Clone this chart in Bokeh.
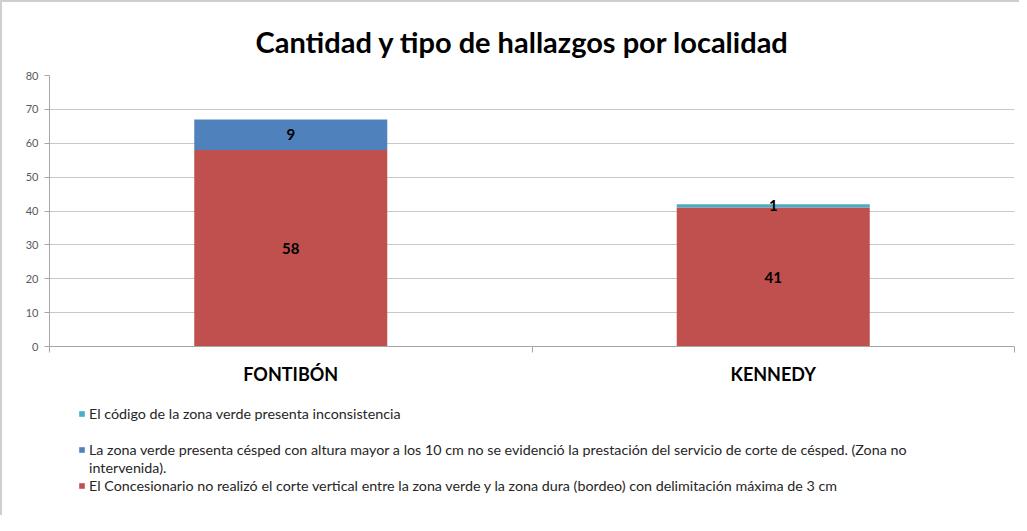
from bokeh.plotting import figure
from bokeh.layouts import column
from bokeh.models import (ColumnDataSource, Range1d, FixedTicker, Legend, LegendItem,
                          LabelSet)
from bokeh.core.properties import value
from bokeh.embed import file_html
from bokeh.resources import INLINE

# ---- data ----
categories = ["FONTIBÓN", "KENNEDY"]
corte_vertical = [58, 41]          # red
zona_no_intervenida = [9, 0]       # blue
codigo_inconsistente = [0, 1]      # cyan
series_names = ["corte_vertical", "zona_no_intervenida", "codigo_inconsistente"]
series_values = [corte_vertical, zona_no_intervenida, codigo_inconsistente]
series_labels = [
    "El Concesionario no realizó el corte vertical entre la zona verde y la zona dura (bordeo) con delimitación máxima de 3 cm",
    "La zona verde presenta césped con altura mayor a los 10 cm no se evidenció la prestación del servicio de corte de césped. (Zona no",
    "El código de la zona verde presenta inconsistencia",
]
label_continuation = "intervenida)."
colors = ["#C0504D", "#4F81BD", "#4BACC6"]
y_ticks = [0, 10, 20, 30, 40, 50, 60, 70, 80]
title_text = "Cantidad y tipo de hallazgos por localidad"

FONT = "Lato"
W = 1017

xs = [i + 0.5 for i in range(len(categories))]
boundaries = list(range(len(categories) + 1))

data = dict(x=xs, cat=categories)
for n, v in zip(series_names, series_values):
    data[n] = v
source = ColumnDataSource(data)

p = figure(width=W, height=385, output_backend="svg", toolbar_location=None,
           x_range=Range1d(0, len(categories)), y_range=Range1d(y_ticks[0], y_ticks[-1]),
           min_border_left=47, min_border_right=5, min_border_top=73, min_border_bottom=40)

renderers = p.vbar_stack(series_names, x="x", width=0.4, color=colors,
                         line_color=None, source=source)

# data labels
lx, ly, lt = [], [], []
for ci in range(len(categories)):
    base = 0
    for vals in series_values:
        v = vals[ci]
        if v > 0:
            lx.append(xs[ci]); ly.append(base + v / 2); lt.append(str(v))
        base += v
lab_src = ColumnDataSource(dict(x=lx, y=ly, t=lt))
p.add_layout(LabelSet(x="x", y="y", text="t", source=lab_src, text_align="center",
                      text_baseline="middle", text_font=value(FONT), text_font_style="bold",
                      text_font_size="15px", text_color="#000000"))

# title
p.title.text = title_text
p.title.align = "left"
p.title.offset = 206
p.title.text_font = FONT
p.title.text_font_size = "29px"
p.title.text_font_style = "bold"
p.title.text_color = "#000000"
p.title.standoff = 33

# axes
p.outline_line_color = None
p.xgrid.visible = False
p.ygrid.ticker = FixedTicker(ticks=y_ticks)
p.ygrid.grid_line_color = "#C8C8C8"

p.yaxis.ticker = FixedTicker(ticks=y_ticks)
p.yaxis.axis_line_color = "#A6A6A6"
p.yaxis.major_tick_line_color = "#A6A6A6"
p.yaxis.major_tick_out = 5
p.yaxis.major_tick_in = 0
p.yaxis.minor_tick_line_color = None
p.yaxis.major_label_text_font = FONT
p.yaxis.major_label_text_font_size = "11px"
p.yaxis.major_label_text_color = "#595959"
p.yaxis.major_label_standoff = 6

p.xaxis.ticker = FixedTicker(ticks=xs, minor_ticks=boundaries)
p.xaxis.major_label_overrides = {x: c for x, c in zip(xs, categories)}
p.xaxis.axis_line_color = "#A6A6A6"
p.xaxis.major_tick_out = 0
p.xaxis.major_tick_in = 0
p.xaxis.minor_tick_out = 6
p.xaxis.minor_tick_in = 0
p.xaxis.minor_tick_line_color = "#A6A6A6"
p.xaxis.major_label_text_font = FONT
p.xaxis.major_label_text_font_size = "18px"
p.xaxis.major_label_text_font_style = "bold"
p.xaxis.major_label_text_color = "#000000"
p.xaxis.major_label_standoff = 10

# ---- legend panel ----
q = figure(width=W, height=128, output_backend="svg", toolbar_location=None,
           x_range=Range1d(0, 1), y_range=Range1d(0, 1),
           x_axis_location=None, y_axis_location=None,
           min_border_left=0, min_border_right=0, min_border_top=0, min_border_bottom=0)
q.outline_line_color = None
q.xgrid.visible = False
q.ygrid.visible = False

# legend keys share the chart's data; hidden here, only their legend swatches show
keys = q.vbar_stack(series_names, x="x", width=0.4, color=colors,
                    line_color=None, source=source)
for k in keys:
    k.visible = False
spacer = q.vbar(x=[], top=[], width=0.1, fill_alpha=0, line_alpha=0)
wrap = q.vbar(x=[], top=[], width=0.1, fill_alpha=0, line_alpha=0)
items = [
    LegendItem(label=series_labels[2], renderers=[keys[2]]),
    LegendItem(label=" ", renderers=[spacer]),
    LegendItem(label=series_labels[1], renderers=[keys[1]]),
    LegendItem(label=label_continuation, renderers=[wrap]),
    LegendItem(label=series_labels[0], renderers=[keys[0]]),
]
leg = Legend(items=items, location=(29, 21), orientation="vertical",
             padding=0, margin=0, spacing=0, border_line_color=None,
             background_fill_alpha=0, glyph_width=7, glyph_height=7,
             label_standoff=4, label_height=18, label_text_font=FONT,
             label_text_font_size="14.3px", label_text_color="#262626")
q.add_layout(leg)

layout = column(p, q, spacing=0)
layout.styles = {"border-left": "2px solid #CFCFCF", "border-top": "2px solid #CFCFCF"}

open("out.html", "w").write(file_html(layout, INLINE))
